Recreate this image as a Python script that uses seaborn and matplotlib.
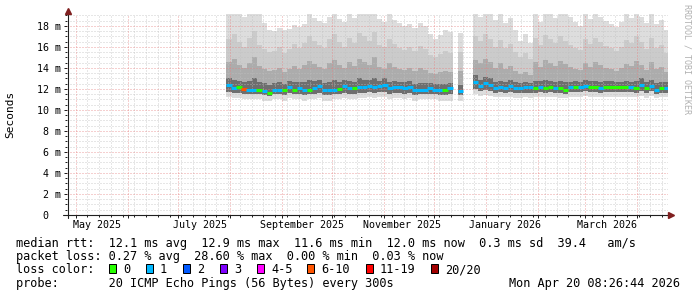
import numpy as np
import pandas as pd
import matplotlib
matplotlib.use("Agg")
import matplotlib.pyplot as plt
import matplotlib.dates as mdates
import matplotlib.transforms as mtransforms
from matplotlib.lines import Line2D
from matplotlib.patches import Rectangle
import seaborn as sns

nan = np.nan

# ---------------- data (3-day columns starting 2025-07-30) ----------------
col_start = pd.date_range("2025-07-30", periods=88, freq="3D")

median = [12.4, 12.1, 12.2, 12.0, 11.95, 11.95, 11.9, 11.85, 11.6, 11.95,
          11.95, 11.9, 12.15, 11.95, 12.05, 11.9, 11.95, 12.05, 12.3, 11.9,
          11.9, 11.95, 12.0, 12.25, 12.05, 12.05, 12.15, 12.2, 12.3, 12.15,
          12.3, 12.35, 12.05, 12.15, 12.15, 12.05, 12.15, 11.9, 11.95, 11.95,
          12.05, 11.95, 11.9, 11.9, 12.05,
          nan, 11.85, nan, nan,
          12.7, 12.3, 12.55, 12.4, 12.05, 12.15, 12.05, 12.3, 12.05, 12.05,
          12.15, 12.15, 12.05, 12.15, 12.05, 12.15, 12.05, 12.05, 11.95, 12.15,
          12.15, 12.15, 12.3, 12.15, 12.15, 12.05, 12.15, 12.15, 12.15, 12.15,
          12.15, 12.15, 12.05, 12.4, 12.05, 12.3, 11.95, 12.05, 12.05]

lost_pings = [1, 1, 0, 7, 1, 1, 0, 1, 0, 1,
              1, 0, 1, 0, 1, 1, 0, 1, 1, 1,
              1, 1, 0, 1, 1, 0, 1, 1, 1, 1,
              1, 1, 1, 1, 1, 1, 1, 1, 1, 1,
              1, 1, 1, 0, 1,
              nan, 1, nan, nan,
              1, 1, 1, 1, 1, 1, 1, 1, 1, 1, 1, 1,
              0, 1, 0, 0, 1, 0, 0, 1, 0, 1,
              1, 0, 0, 1, 0, 0, 0, 0, 0, 1,
              0, 1, 0, 1, 1, 0, 1]

smoke_max = [19.1, 19.1, 19.1, 18.9, 19.1, 19.1, 19.1, 18.3, 17.6, 17.5,
             17.8, 17.6, 17.7, 18.1, 17.9, 18.2, 19.1, 18.8, 18.5, 18.3,
             18.9, 19.1, 18.7, 18.4, 19.1, 18.8, 19.1, 19.1, 19.1, 19.1,
             18.7, 18.4, 19.1, 18.6, 18.3, 18.0, 18.2, 17.8, 18.3, 18.0,
             17.2, 16.8, 17.1, 17.6, 17.4,
             nan, 17.3, nan, nan,
             19.1, 18.9, 19.1, 19.1, 18.6, 19.1, 18.3, 18.8, 17.6, 16.6,
             17.2, 16.4, 19.1, 18.4, 19.1, 19.1, 18.8, 19.1, 19.1, 18.9,
             18.4, 18.0, 19.1, 18.7, 19.1, 18.9, 18.5, 18.2, 17.9, 18.4,
             19.1, 18.8, 19.1, 18.9, 18.3, 19.1, 18.2, 18.6, 17.6]

smoke_q3 = [16.8, 17.2, 16.5, 16.0, 16.9, 17.5, 16.2, 15.8, 15.5, 15.6,
            16.0, 15.4, 15.8, 16.3, 15.9, 16.4, 17.0, 16.6, 16.2, 15.9,
            16.8, 17.2, 16.5, 16.0, 16.9, 16.4, 17.3, 17.0, 16.6, 17.4,
            16.2, 16.0, 16.8, 16.3, 15.9, 15.7, 16.0, 15.6, 16.1, 15.8,
            15.2, 15.0, 15.3, 15.6, 15.4,
            nan, 15.5, nan, nan,
            17.0, 16.6, 17.2, 16.8, 16.0, 16.7, 15.9, 16.3, 15.5, 15.0,
            15.4, 14.9, 16.9, 16.2, 17.1, 16.8, 16.4, 17.0, 16.6, 16.2,
            15.9, 15.7, 16.8, 16.3, 16.9, 16.5, 16.1, 15.9, 15.6, 16.0,
            16.7, 16.4, 17.0, 16.5, 15.8, 16.9, 15.9, 16.2, 15.4]

smoke_q2 = [14.6, 14.9, 14.3, 14.0, 14.5, 15.0, 14.2, 13.9, 13.7, 13.8,
            14.0, 13.6, 13.9, 14.2, 13.9, 14.3, 14.7, 14.4, 14.1, 13.9,
            14.5, 14.8, 14.3, 14.0, 14.6, 14.2, 14.9, 14.6, 14.3, 15.0,
            14.1, 13.9, 14.5, 14.1, 13.9, 13.8, 14.0, 13.7, 14.0, 13.8,
            13.5, 13.4, 13.6, 13.7, 13.6,
            nan, 13.7, nan, nan,
            14.8, 14.5, 14.9, 14.6, 14.0, 14.5, 13.9, 14.2, 13.7, 13.4,
            13.6, 13.3, 14.6, 14.1, 14.8, 14.5, 14.2, 14.7, 14.4, 14.1,
            13.9, 13.8, 14.5, 14.1, 14.6, 14.3, 14.0, 13.9, 13.7, 14.0,
            14.4, 14.2, 14.7, 14.3, 13.8, 14.6, 13.9, 14.1, 13.6]

smoke_q1 = [13.0, 12.9, 12.8, 12.7, 12.8, 13.0, 12.7, 12.6, 12.4, 12.6,
            12.7, 12.5, 12.8, 12.7, 12.7, 12.7, 12.9, 12.8, 12.9, 12.6,
            12.7, 12.9, 12.7, 12.9, 12.8, 12.7, 13.0, 12.9, 12.9, 13.0,
            12.8, 13.0, 12.7, 12.8, 12.7, 12.7, 12.8, 12.5, 12.6, 12.6,
            12.6, 12.5, 12.5, 12.5, 12.6,
            nan, 12.4, nan, nan,
            13.3, 12.9, 13.1, 13.0, 12.7, 12.8, 12.7, 12.9, 12.7, 12.6,
            12.7, 12.6, 12.8, 12.8, 12.9, 12.8, 12.7, 12.8, 12.7, 12.7,
            12.8, 12.7, 12.9, 12.8, 12.8, 12.7, 12.8, 12.8, 12.7, 12.7,
            12.8, 12.7, 12.8, 13.0, 12.7, 12.9, 12.6, 12.7, 12.7]

smoke_lo = [11.7, 11.6, 11.6, 11.5, 11.5, 11.5, 11.5, 11.4, 11.3, 11.5,
            11.5, 11.4, 11.6, 11.5, 11.5, 11.4, 11.5, 11.5, 11.6, 11.4,
            11.4, 11.5, 11.5, 11.6, 11.5, 11.5, 11.6, 11.6, 11.7, 11.6,
            11.7, 11.7, 11.5, 11.6, 11.6, 11.5, 11.6, 11.4, 11.5, 11.5,
            11.5, 11.5, 11.4, 11.4, 11.5,
            nan, 11.4, nan, nan,
            12.0, 11.8, 11.9, 11.8, 11.6, 11.7, 11.6, 11.7, 11.6, 11.6,
            11.6, 11.6, 11.6, 11.7, 11.6, 11.7, 11.6, 11.6, 11.5, 11.7,
            11.7, 11.7, 11.8, 11.7, 11.7, 11.6, 11.7, 11.7, 11.7, 11.7,
            11.7, 11.7, 11.6, 11.8, 11.6, 11.8, 11.5, 11.6, 11.6]

smoke_min = [11.2, 11.1, 11.1, 11.0, 11.0, 11.0, 11.0, 10.9, 10.9, 11.0,
             11.0, 10.9, 11.1, 11.0, 11.0, 10.9, 11.0, 11.0, 11.1, 10.9,
             10.9, 11.0, 11.0, 11.1, 11.0, 11.0, 11.1, 11.1, 11.2, 11.1,
             11.2, 11.2, 11.0, 11.1, 11.1, 11.0, 11.1, 10.9, 11.0, 11.0,
             11.0, 11.0, 10.9, 10.9, 10.9,
             nan, 10.9, nan, nan,
             11.5, 11.3, 11.4, 11.3, 11.2, 11.2, 11.2, 11.2, 11.1, 11.1,
             11.2, 11.1, 11.2, 11.2, 11.2, 11.2, 11.2, 11.1, 11.1, 11.2,
             11.2, 11.2, 11.3, 11.2, 11.2, 11.2, 11.2, 11.2, 11.2, 11.2,
             11.2, 11.2, 11.2, 11.3, 11.1, 11.3, 11.1, 11.2, 11.2]

y_ticks = [0, 2, 4, 6, 8, 10, 12, 14, 16, 18]
y_tick_labels = ["0  ", "2 m", "4 m", "6 m", "8 m", "10 m", "12 m", "14 m", "16 m", "18 m"]
x_label_dates = ["2025-05-14", "2025-07-14", "2025-09-13", "2025-11-12", "2026-01-12", "2026-03-14"]
x_labels = ["May 2025", "July 2025", "September 2025", "November 2025", "January 2026", "March 2026"]

loss_names = ["0", "1", "2", "3", "4-5", "6-10", "11-19", "20/20"]
loss_colors = ["#26ff00", "#00b8ff", "#0059ff", "#7e00ff", "#ff00ff", "#ff5500", "#ff0000", "#a10000"]

rtt_stats = ["12.1 ms avg", "12.9 ms max", "11.6 ms min", "12.0 ms now", "0.3 ms sd", "39.4   am/s"]
loss_stats = ["0.27 % avg", "28.60 % max", "0.00 % min", "0.03 % now"]
probe_text = "20 ICMP Echo Pings (56 Bytes) every 300s"
stamp_text = "Mon Apr 20 08:26:44 2026"

# ---------------- style ----------------
sns.set_style("white")
plt.rcParams["font.family"] = ["DejaVu Sans Mono"]

W, H = 697, 297
def fx(x):
    return x / W
def fy(y):
    return 1 - y / H

L, R, T, B = 67, 668, 13.9, 215
fig = plt.figure(figsize=(W / 100, H / 100), dpi=100, facecolor="white")
ax = fig.add_axes([fx(L), fy(B), (R - L) / W, (B - T) / H])
ax.set_facecolor("white")
for sp in ax.spines.values():
    sp.set_visible(False)

x0 = mdates.date2num(pd.Timestamp("2025-04-25 19:30"))
x1 = mdates.date2num(pd.Timestamp("2026-04-19 12:00"))

# ---------------- smoke ----------------
edges = mdates.date2num(list(col_start) + [col_start[-1] + pd.Timedelta(days=3)])
med = np.array(median, float)
valid = ~np.isnan(med)
runs = []
i, n = 0, len(med)
while i < n:
    if valid[i]:
        j = i
        while j < n and valid[j]:
            j += 1
        runs.append((i, j))
        i = j
    else:
        i += 1

bands = [(smoke_min, smoke_max, "#dddddd"),
         (smoke_lo, smoke_q3, "#cbcbcb"),
         (smoke_lo, smoke_q2, "#acacac"),
         (smoke_lo, smoke_q1, "#6e6e6e")]
for lo, hi, c in bands:
    lo = np.array(lo, float)
    hi = np.array(hi, float)
    for a, b in runs:
        ax.stairs(hi[a:b], edges[a:b + 1], baseline=lo[a:b], fill=True,
                  facecolor=c, edgecolor="none", linewidth=0, zorder=1)

# ---------------- grid (drawn over smoke like rrdtool) ----------------
gmin = (0.75, 0.75, 0.75, 0.75)
gmaj = (0.9, 0.5, 0.5, 0.75)
dash = (0, (1, 2))
for y in np.arange(0.5, 19.01, 0.5):
    if abs(y % 2) > 1e-9:
        ax.axhline(y, color=gmin, lw=0.72, ls=dash, zorder=3)
weeks = pd.date_range("2025-05-01", "2026-04-19", freq="7D")
months = pd.date_range("2025-05-01", "2026-04-01", freq="MS")
for d in weeks:
    if d.day != 1:
        ax.axvline(mdates.date2num(d), color=gmin, lw=0.72, ls=dash, zorder=3)
for y in y_ticks[1:]:
    ax.axhline(y, color=gmaj, lw=0.72, ls=dash, zorder=3)
for d in months:
    ax.axvline(mdates.date2num(d), color=gmaj, lw=0.72, ls=dash, zorder=3)

# ---------------- median coloured by loss (seaborn) ----------------
def loss_cat(v):
    if v <= 3:
        return loss_names[int(v)]
    if v <= 5:
        return "4-5"
    if v <= 10:
        return "6-10"
    if v <= 19:
        return "11-19"
    return "20/20"

df = pd.DataFrame({"t": mdates.date2num(col_start) + 1.5, "median": med,
                   "lost": np.array(lost_pings, float)}).dropna()
df["loss"] = [loss_cat(v) for v in df["lost"]]
palette = dict(zip(loss_names, loss_colors))
sns.scatterplot(data=df, x="t", y="median", hue="loss", palette=palette,
                marker="_", s=15, linewidth=2.2, legend=False, ax=ax, zorder=5)
ax.set_xlabel("")
ax.set_ylabel("")
ax.set_xlim(x0, x1)
ax.set_ylim(0, 19.15)

# ---------------- ticks ----------------
ax.set_xticks(mdates.date2num(months))
ax.set_xticks(mdates.date2num(weeks), minor=True)
ax.set_yticks(y_ticks)
ax.set_yticks(np.arange(0, 19.01, 0.5), minor=True)
ax.tick_params(axis="both", which="both", direction="out", color="#1f1f1f",
               width=0.72, labelbottom=False, labelleft=False, bottom=True, left=True)
ax.tick_params(axis="both", which="major", length=2.2)
ax.tick_params(axis="both", which="minor", length=1.5)

# tick labels
bx = mtransforms.blended_transform_factory(ax.transData, fig.transFigure)
for d, s in zip(x_label_dates, x_labels):
    ax.text(mdates.date2num(pd.Timestamp(d)), fy(227.6), s, transform=bx,
            ha="center", va="baseline", fontsize=7.2, color="black")
by = mtransforms.offset_copy(
    mtransforms.blended_transform_factory(fig.transFigure, ax.transData),
    fig=fig, x=0, y=-3.8, units="dots")
for v, s in zip(y_ticks, y_tick_labels):
    ax.text(fx(61), v, s, transform=by, ha="right", va="baseline",
            fontsize=7.2, color="black")

# ---------------- axes with arrows ----------------
axis_col = "#1f1f1f"
arrow_col = "#801f1f"
fig.add_artist(Line2D([fx(67.5), fx(67.5)], [fy(218), fy(11)], color=axis_col, lw=0.8))
fig.add_artist(Line2D([fx(63), fx(669)], [fy(215), fy(215)], color=axis_col, lw=0.8))
fig.add_artist(Line2D([fx(67.5)], [fy(11)], marker="^", markersize=3.8, color=arrow_col, lw=0))
fig.add_artist(Line2D([fx(670.5)], [fy(215)], marker=">", markersize=3.8, color=arrow_col, lw=0))

# ---------------- texts ----------------
fig.text(fx(10.5), fy(114), "Seconds", rotation=90, ha="center", va="center",
         fontsize=8, color="black")
fig.text(fx(687.5), fy(59), "RRDTOOL / TOBI OETIKER", rotation=270, ha="center",
         va="center", fontsize=6, color="#b0b0b0")

fs = 8.54
def put(x, base, s, ha="left"):
    fig.text(fx(x), fy(base), s, ha=ha, va="baseline", fontsize=fs, color="black")

put(15.5, 246.7, "median rtt:  " + "  ".join(rtt_stats))
put(15.5, 260.0, "packet loss: " + "  ".join(loss_stats))
put(15.5, 273.3, "loss color:")
box_x = [108.7, 145.7, 182.7, 219.7, 256.7, 307.3, 365.7, 430.7]
for bxp, c, s in zip(box_x, loss_colors, loss_names):
    fig.add_artist(Rectangle((fx(bxp), fy(273.3)), 7 / W, 9 / H, transform=fig.transFigure,
                             facecolor=c, edgecolor="black", lw=0.72))
    put(bxp + 14.3, 273.3, s)
put(15.5, 286.6, "probe:       " + probe_text)
put(680, 286.6, stamp_text, ha="right")

fig.savefig("out.png", dpi=100, facecolor="white")
